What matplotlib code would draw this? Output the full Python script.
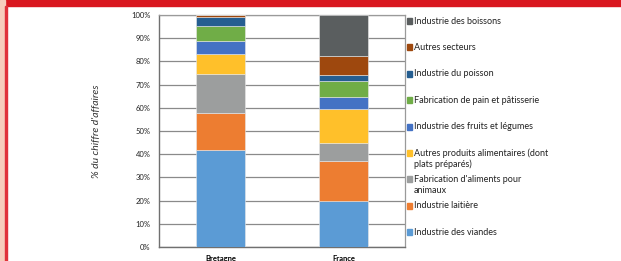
import matplotlib.pyplot as plt
from matplotlib.patches import Rectangle
import numpy as np

regions = ["Bretagne", "France"]
sectors = ["Industrie des viandes", "Industrie laitière",
           "Fabrication d'aliments pour\nanimaux",
           "Autres produits alimentaires (dont\nplats préparés)",
           "Industrie des fruits et légumes",
           "Fabrication de pain et pâtisserie",
           "Industrie du poisson", "Autres secteurs",
           "Industrie des boissons"]
bretagne = [41.7, 16.2, 16.5, 8.9, 5.3, 6.5, 4.0, 0.9, 0.0]
france = [19.7, 17.5, 7.5, 14.9, 4.9, 7.2, 2.3, 8.3, 17.7]
colors = ["#5B9BD5", "#ED7D31", "#9C9E9E", "#FFC02A", "#4472C4",
          "#70AD47", "#255E91", "#9E480E", "#5A5E5F"]
yticks = [0, 10, 20, 30, 40, 50, 60, 70, 80, 90, 100]

plt.rcParams['font.family'] = ['Lato', 'DejaVu Sans']

fig = plt.figure(figsize=(6.21, 2.61), dpi=100)

# page decoration: red band on top, pink strip on the left
fig.patches.append(Rectangle((0, 1 - 6/261), 1, 6/261, transform=fig.transFigure,
                             color="#D9171F", zorder=0))
fig.patches.append(Rectangle((0, 0), 5/621, 1, transform=fig.transFigure,
                             color="#F7CDBC", zorder=0))
fig.patches.append(Rectangle((5/621, 0), 1.5/621, 1 - 6/261, transform=fig.transFigure,
                             color="#E0323A", zorder=0))

ax = fig.add_axes([159/621, 14/261, 246/621, 232/261])
x = np.arange(len(regions))
data = np.array([bretagne, france])
bottom = np.zeros(len(regions))
for i, name in enumerate(sectors):
    ax.bar(x, data[:, i], 0.4, bottom=bottom, color=colors[i],
           edgecolor="#e8e8e8", linewidth=0.4, zorder=3)
    bottom += data[:, i]

ax.set_xlim(-0.5, 1.5)
ax.set_ylim(0, 100)
ax.set_yticks(yticks)
ax.set_yticklabels([f"{t}%" for t in yticks], fontsize=5.5, color="#222222")
ax.set_xticks(x)
ax.set_xticklabels(regions, fontsize=5.5, fontweight="bold")
ax.tick_params(length=0, pad=6)
ax.grid(axis="y", color="#8a8a8a", linewidth=0.9, zorder=1)
for s in ["top", "right"]:
    ax.spines[s].set_color("#9a9a9a")
    ax.spines[s].set_linewidth(0.9)
for s in ["left", "bottom"]:
    ax.spines[s].set_color("#707070")
    ax.spines[s].set_linewidth(1.0)
ax.set_ylabel("% du chiffre d'affaires", fontsize=7.5, style="italic",
              color="#333333", labelpad=22)

# legend, reversed order, marker aligned with first text line
for k, i in enumerate(reversed(range(len(sectors)))):
    ytop = 21 + 26.4 * k
    fig.patches.append(Rectangle((407/621, 1 - (ytop + 3)/261), 5/621, 6/261,
                                 transform=fig.transFigure, color=colors[i]))
    fig.text(414/621, 1 - (ytop - 4.5)/261, sectors[i], fontsize=6.5,
             va="top", ha="left", color="#222222", linespacing=1.25)

fig.savefig("out.png", dpi=100)
